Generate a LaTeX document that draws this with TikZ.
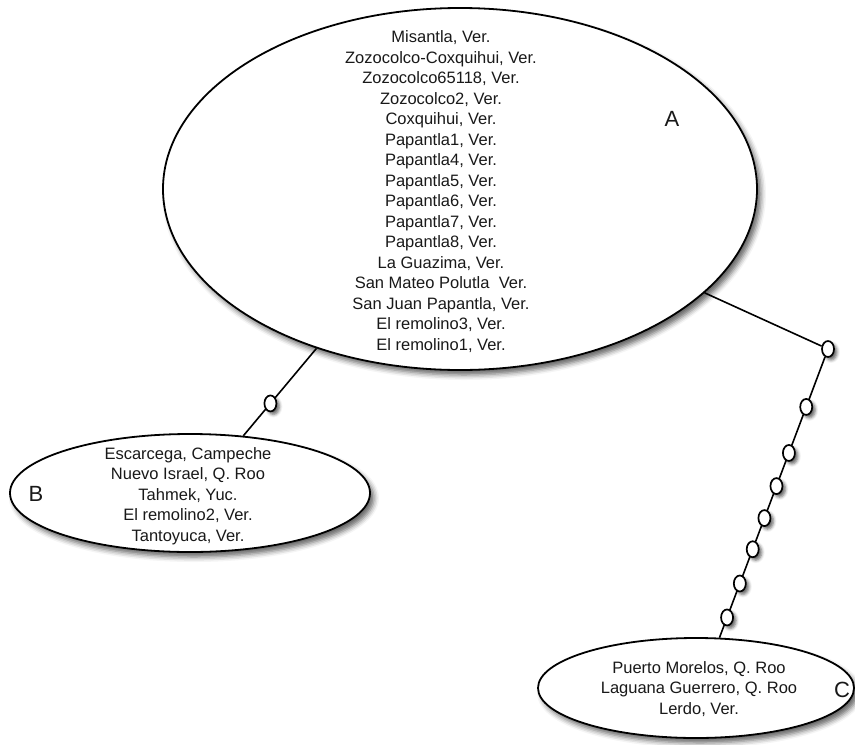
\documentclass[tikz,border=0pt]{standalone}
\usepackage{fontspec}
\setmainfont{Liberation Sans}
\usetikzlibrary{shapes.geometric,shadows.blur}

\tikzset{
  grupo/.style={ellipse, draw, line width=1.8pt, fill=white, inner sep=0pt,
    blur shadow={shadow xshift=4pt, shadow yshift=-5pt, shadow blur radius=5pt, shadow opacity=60}},
  cuenta/.style={ellipse, draw, line width=1.7pt, fill=white, inner sep=0pt,
    minimum width=12pt, minimum height=16pt,
    blur shadow={shadow xshift=3pt, shadow yshift=-3pt, shadow blur radius=3pt, shadow opacity=60}},
  rama/.style={line width=1.6pt},
  lista/.style={align=center, text=black!90, font=\fontsize{16.5}{20.5}\selectfont},
  letra/.style={text=black!90, font=\fontsize{22}{26}\selectfont}
}

\begin{document}
\begin{tikzpicture}[x=1pt, y=-1pt]
        \useasboundingbox (0, 0) rectangle (855, 745);
        % grupos
        \node [grupo, minimum width=594pt, minimum height=362pt] (A) at (460, 189) {};
        \node [grupo, minimum width=360pt, minimum height=118pt] (B) at (190, 493) {};
        \node [grupo, minimum width=316pt, minimum height=100pt] (C) at (696, 688) {};
        % ramas
        \node [cuenta] (k0) at (828, 349) {};
        \draw [rama] (A.228) -- node [cuenta, pos=0.63] (kB) {} (B.47);
        \draw [rama] (A.337) -- (k0);
        \draw [rama] (k0) -- (C.65)
          foreach \p [count=\i] in {0.178, 0.342, 0.46, 0.574, 0.685, 0.807, 0.928} {
            node [cuenta, pos=\p] (k\i) {}
          };
        % localidades
        \node [lista] (lA) at (441, 191.5) {Misantla, Ver.\\ Zozocolco-Coxquihui, Ver.\\ Zozocolco65118, Ver.\\
          Zozocolco2, Ver.\\ Coxquihui, Ver.\\ Papantla1, Ver.\\ Papantla4, Ver.\\ Papantla5, Ver.\\
          Papantla6, Ver.\\ Papantla7, Ver.\\ Papantla8, Ver.\\ La Guazima, Ver.\\
          San Mateo Polutla\ \ Ver.\\ San Juan Papantla, Ver.\\ El remolino3, Ver.\\ El remolino1, Ver.};
        \node [lista] (lB) at (188, 496) {Escarcega, Campeche\\ Nuevo Israel, Q. Roo\\ Tahmek, Yuc.\\
          El remolino2, Ver.\\ Tantoyuca, Ver.};
        \node [lista] (lC) at (699, 689) {Puerto Morelos, Q. Roo\\ Laguana Guerrero, Q. Roo\\ Lerdo, Ver.};
        % letras
        \node [letra] (tA) at (672, 119) {A};
        \node [letra] (tB) at (36, 494) {B};
        \node [letra] (tC) at (842, 690) {C};
\end{tikzpicture}
\end{document}
